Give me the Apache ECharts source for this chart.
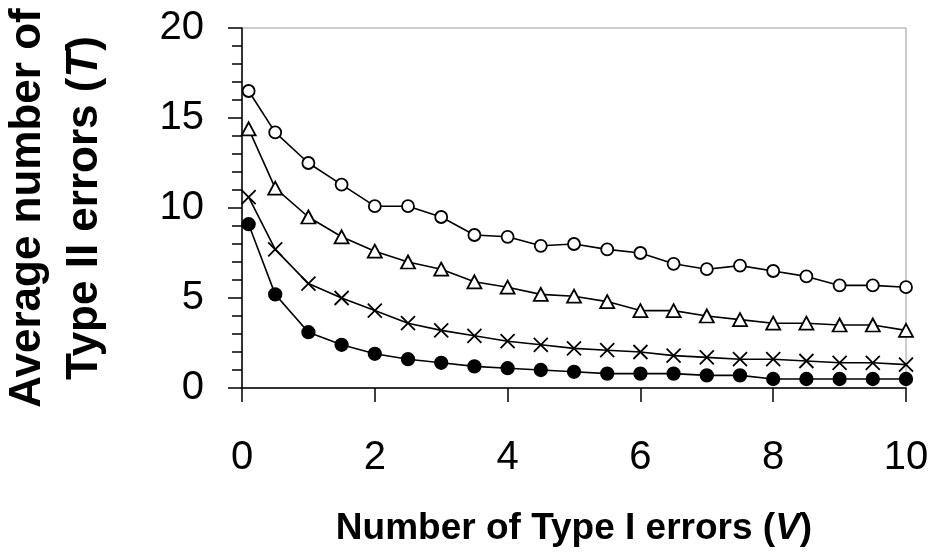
<!DOCTYPE html>
<html>
<head>
<meta charset="utf-8">
<script src="https://cdn.jsdelivr.net/npm/echarts@6/dist/echarts.min.js"></script>
<style>
html,body{margin:0;padding:0;background:#fff;}
#chart{width:931px;height:552px;}
</style>
</head>
<body>
<div id="chart"></div>
<script>
var xValues = [0.1, 0.5, 1, 1.5, 2, 2.5, 3, 3.5, 4, 4.5, 5, 5.5, 6, 6.5, 7, 7.5, 8, 8.5, 9, 9.5, 10];
var openCircle = [16.5, 14.2, 12.5, 11.3, 10.1, 10.1, 9.5, 8.5, 8.4, 7.9, 8.0, 7.7, 7.5, 6.9, 6.6, 6.8, 6.5, 6.2, 5.7, 5.7, 5.6];
var triangle = [14.4, 11.1, 9.5, 8.4, 7.6, 7.0, 6.6, 5.9, 5.6, 5.2, 5.1, 4.8, 4.3, 4.3, 4.0, 3.8, 3.6, 3.6, 3.5, 3.5, 3.2];
var cross = [10.6, 7.7, 5.8, 5.0, 4.3, 3.6, 3.2, 2.9, 2.6, 2.4, 2.2, 2.1, 2.0, 1.8, 1.7, 1.6, 1.6, 1.5, 1.4, 1.4, 1.3];
var filledCircle = [9.1, 5.2, 3.1, 2.4, 1.9, 1.6, 1.4, 1.2, 1.1, 1.0, 0.9, 0.8, 0.8, 0.8, 0.7, 0.7, 0.5, 0.5, 0.5, 0.5, 0.5];
var xTicks = [0, 2, 4, 6, 8, 10];
var yTicks = [0, 5, 10, 15, 20];
var xTitle = 'Number of Type I errors (V)';
var yTitleLine1 = 'Average number of';
var yTitleLine2 = 'Type II errors (T)';

function pairs(ys) { return xValues.map(function (x, i) { return [x, ys[i]]; }); }

var chart = echarts.init(document.getElementById('chart'), null, {renderer: 'canvas'});
var FONT = "'Liberation Sans', Arial, sans-serif";
var lineStyle = {color: '#000', width: 1.6};

function mkSeries(name, data, symbol, size, fill) {
  return {
    name: name, type: 'line', data: pairs(data),
    symbol: symbol, symbolSize: size, showSymbol: true,
    lineStyle: lineStyle, color: '#000',
    itemStyle: {color: fill, borderColor: '#000', borderWidth: 1.8},
    emphasis: {disabled: true}, animation: false
  };
}

chart.setOption({
  animation: false,
  backgroundColor: '#fff',
  grid: {left: 242, right: 25, top: 28, bottom: 164, containLabel: false, outerBoundsMode: 'none',
    show: true, borderColor: '#9a9a9a', borderWidth: 1, backgroundColor: 'transparent'},
  xAxis: {
    type: 'value', min: xTicks[0], max: xTicks[xTicks.length - 1], interval: 2,
    axisLine: {show: true, onZero: false, lineStyle: {color: '#000', width: 1.5}},
    axisTick: {show: true, inside: false, length: 14, lineStyle: {color: '#000', width: 1.5}},
    axisLabel: {margin: 50, fontSize: 40, color: '#000', fontFamily: FONT},
    splitLine: {show: false},
    name: xTitle.replace('(V)', '({i|V})'),
    nameLocation: 'middle', nameGap: 122,
    nameTextStyle: {fontSize: 37, fontWeight: 'bold', color: '#000', fontFamily: FONT,
      rich: {i: {fontSize: 37, fontWeight: 'bold', fontStyle: 'italic', color: '#000', fontFamily: FONT}}}
  },
  yAxis: {
    type: 'value', min: yTicks[0], max: yTicks[yTicks.length - 1], interval: 5,
    axisLine: {show: true, onZero: false, lineStyle: {color: '#000', width: 1.5}},
    axisTick: {show: true, inside: false, length: 14, lineStyle: {color: '#000', width: 1.5}},
    minorTick: {show: true, splitNumber: 5, length: 10, lineStyle: {color: '#000', width: 1.5}},
    axisLabel: {margin: 38, fontSize: 40, color: '#000', fontFamily: FONT},
    splitLine: {show: false},
    minorSplitLine: {show: false},
    name: yTitleLine1 + '\n' + yTitleLine2.replace('(T)', '({i|T})'),
    nameLocation: 'middle', nameGap: 129, nameRotate: 90,
    nameTextStyle: {fontSize: 44, lineHeight: 57, fontWeight: 'bold', color: '#000', fontFamily: FONT, align: 'center',
      rich: {i: {fontSize: 44, lineHeight: 57, fontWeight: 'bold', fontStyle: 'italic', color: '#000', fontFamily: FONT}}}
  },
  series: [
    mkSeries('open circle', openCircle, 'circle', 12, '#fff'),
    mkSeries('triangle', triangle, 'triangle', [14, 13], '#fff'),
    mkSeries('cross', cross, 'path://M0,0L10,10M10,0L0,10', 14, '#000'),
    mkSeries('filled circle', filledCircle, 'circle', 12.5, '#000')
  ]
});
</script>
</body>
</html>
